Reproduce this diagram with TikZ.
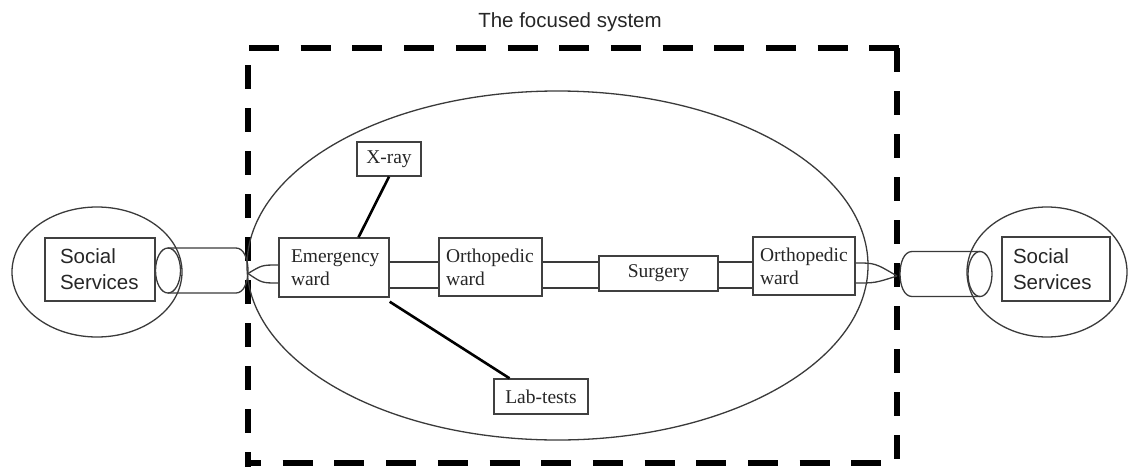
\documentclass[tikz,border=0pt]{standalone}
\usepackage{fontspec}
\setmainfont{Liberation Serif}
\newfontfamily\arialf{Liberation Sans}
\usetikzlibrary{calc}
\definecolor{ln}{HTML}{3A3A3A}
\definecolor{boxcol}{HTML}{404040}
\begin{document}
\begin{tikzpicture}[x=1pt,y=-1pt,
  thinline/.style={draw=ln, line width=1.3pt},
  box/.style={draw=boxcol, line width=1.4pt, inner ysep=0pt, text=black!85,
    font=\fontsize{19.5}{23}\selectfont},
  ssbox/.style={draw=boxcol, line width=1.4pt, inner ysep=0pt, text=black!85,
    font=\arialf\fontsize{20.5}{26}\selectfont},
  thickline/.style={draw=black, line width=2.6pt},
  dashH/.style={draw=black, line width=6.5pt, dash pattern=on 30pt off 21.7pt},
  dashV/.style={draw=black, line width=6.5pt, dash pattern=on 24pt off 19pt}
]
\useasboundingbox (0,0) rectangle (1129,466);

% title
\node[font=\arialf\fontsize{20.5}{24}\selectfont, text=black!85, anchor=base] (title) at (570,27) {The focused system};

% dashed frame
\coordinate (ftl) at (249,48);
\coordinate (ftr) at (899,48);
\coordinate (fl1) at (248,65);
\coordinate (fl2) at (248,472);
\coordinate (fr1) at (897,48);
\coordinate (fr2) at (897,472);
\coordinate (fb1) at (245,463);
\coordinate (fb2) at (900,463);
\draw[dashH] (ftl) -- (ftr);
\draw[dashV] (fl1) -- (fl2);
\draw[dashV] (fr1) -- (fr2);
\draw[dashH, dash phase=14pt] (fb1) -- (fb2);

% ellipses
\coordinate (bigc) at (557.5,265.5);
\draw[thinline] (bigc) ellipse [x radius=310.5, y radius=174.5];
\coordinate (slc) at (97,272);
\draw[thinline] (slc) ellipse [x radius=85, y radius=65];
\coordinate (src) at (1047,272);
\draw[thinline] (src) ellipse [x radius=80, y radius=65];

% cylinders
\coordinate (clc) at (168,270.5);
\draw[thinline] (clc) ellipse [x radius=12.5, y radius=22.5];
\draw[thinline] (168,248) -- (236,248) .. controls (252,248) and (252,293) .. (236,293) -- (168,293);
\coordinate (crc) at (980,274);
\draw[thinline] (crc) ellipse [x radius=12, y radius=22.5];
\draw[thinline] (980,251.5) -- (912,251.5) .. controls (896,251.5) and (896,296.5) .. (912,296.5) -- (980,296.5);

% boxes
\node[ssbox, minimum width=110pt, minimum height=63pt, inner xsep=15pt, text width=80pt, align=left] (ssl) at (100,269.5) {Social\\Services};
\node[ssbox, minimum width=108pt, minimum height=64pt, inner xsep=11pt, text width=86pt, align=left] (ssr) at (1056,269) {Social\\Services};

\node[box, minimum width=110pt, minimum height=59pt, inner xsep=12pt, text width=86pt, align=left] (em) at (334,267.5) {Emergency\\ward};
\node[box, minimum width=103pt, minimum height=58pt, inner xsep=7pt, text width=89pt, align=left] (o1) at (490.5,267) {Orthopedic\\ward};
\node[box, minimum width=119pt, minimum height=35pt, inner xsep=4pt] (su) at (658.5,273.5) {Surgery};
\node[box, minimum width=102pt, minimum height=58pt, inner xsep=7pt, text width=88pt, align=left] (o2) at (804,266) {Orthopedic\\ward};
\node[box, minimum width=64pt, minimum height=34pt, inner xsep=4pt] (xr) at (389,159) {X-ray};
\node[box, minimum width=94pt, minimum height=35pt, inner xsep=4pt] (lab) at (541,396.5) {Lab-tests};

% parallel connectors
\coordinate (ct) at (0,262);
\coordinate (cb) at (0,288);
\draw[thinline] (em.east |- ct) -- (o1.west |- ct);
\draw[thinline] (em.east |- cb) -- (o1.west |- cb);
\draw[thinline] (o1.east |- ct) -- (su.west |- ct);
\draw[thinline] (o1.east |- cb) -- (su.west |- cb);
\draw[thinline] (su.east |- ct) -- (o2.west |- ct);
\draw[thinline] (su.east |- cb) -- (o2.west |- cb);

% lens connectors
\coordinate (ltip) at (248,273.5);
\draw[thinline] ($(em.west)+(0,-2.5)$) .. controls (262,265) .. (ltip);
\draw[thinline] ($(em.west)+(0,15.5)$) .. controls (262,283) .. (ltip);
\coordinate (rtip) at (897,276);
\draw[thinline] ($(o2.east)+(0,-3)$) .. controls (875,263) .. (rtip);
\draw[thinline] ($(o2.east)+(0,17)$) .. controls (875,283) .. (rtip);

% X-ray and Lab connectors
\draw[thickline] (xr.south) -- ($(em.north west)!0.72!(em.north east)$);
\draw[thickline] ($(em.south east)+(0,4)$) -- ($(lab.north west)!0.17!(lab.north east)$);
\end{tikzpicture}
\end{document}
